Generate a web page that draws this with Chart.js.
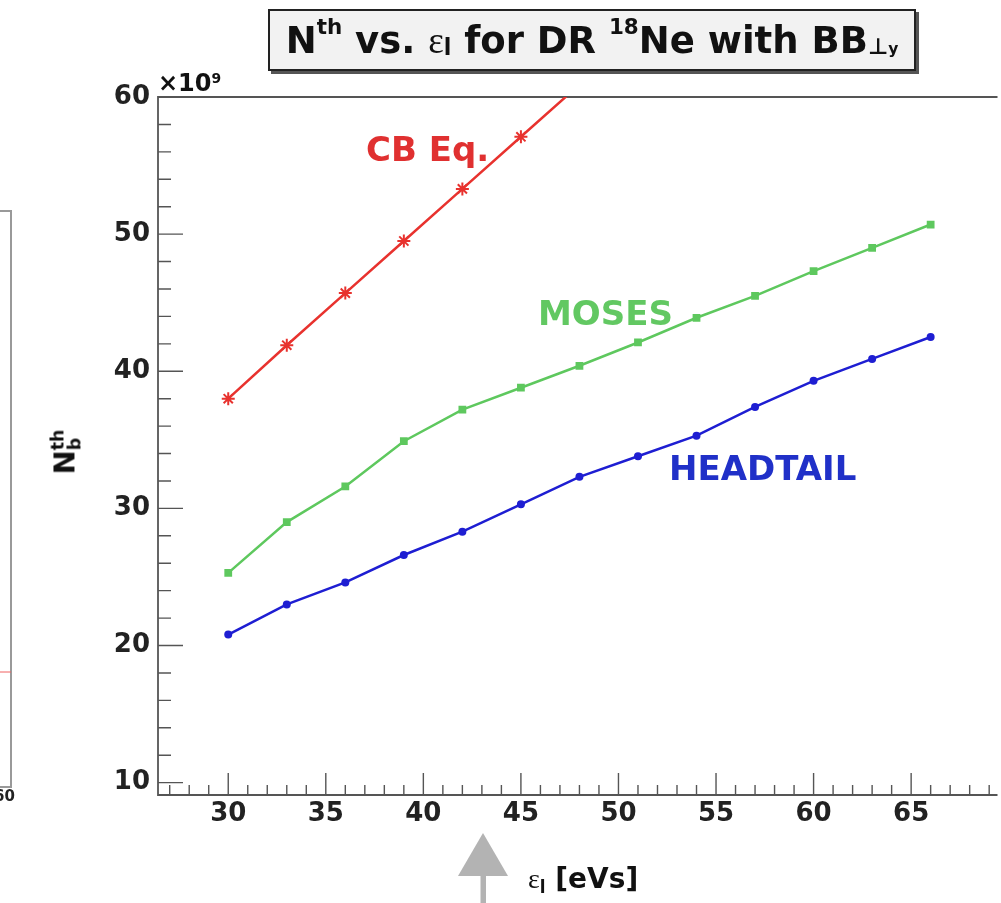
<!DOCTYPE html>
<html lang="en">
<head>
    <meta charset="UTF-8">
    <title>Nth vs. emittance for DR 18Ne</title>
    <script src="https://cdn.jsdelivr.net/npm/chart.js"></script>
    <style>
        body { margin: 0; background: white; overflow: hidden; }
        #wrap { position: relative; width: 1001px; height: 903px; }
        canvas { position: absolute; left: 0; top: 0; }
        .txt { position: absolute; font-family: "DejaVu Sans", sans-serif; font-weight: bold; white-space: nowrap; line-height: 1; }
        .up { position: relative; top: -0.6em; font-size: 0.58em; }
        .dn { position: relative; top: 0.3em; font-size: 0.6em; }
        .eps { font-family: "Liberation Serif", serif; font-weight: normal; }
        #title { left: 268px; top: 9px; width: 644px; height: 58px; border: 2px solid #222; background: #f2f2f2;
                 box-shadow: 3px 3px 0 #555; font-size: 37px; color: #111;
                 display: flex; align-items: center; justify-content: center; }
        #ytitle { left: 66px; top: 452px; font-size: 29px; color: #111; transform: translate(-50%, -50%) rotate(-90deg); }
        .stack { display: inline-block; vertical-align: middle; font-size: 0.6em; line-height: 0.95; text-align: left; }
    </style>
</head>
<body>
<div id="wrap">
    <canvas id="chart" width="1001" height="903"></canvas>
    <div class="txt" id="title">N<span class="up">th</span>&nbsp;vs.&nbsp;<span class="eps">ε</span><span class="dn">l</span>&nbsp;for DR&nbsp;<span class="up">18</span>Ne with BB<span class="dn">⊥<span style="font-size:0.7em">y</span></span></div>
    <div class="txt" id="ytitle">N<span class="stack">th<br>b</span></div>
    <div class="txt" style="left:158px; top:71px; font-size:24px; color:#111;">×10<span class="up">9</span></div>
    <div class="txt" style="left:528px; top:865px; font-size:28px; color:#111;"><span class="eps">ε</span><span class="dn">l</span> [eVs]</div>
    <div class="txt" style="left:366px; top:132px; font-size:34px; color:#e03030;">CB Eq.</div>
    <div class="txt" style="left:538px; top:296px; font-size:34px; color:#62c862;">MOSES</div>
    <div class="txt" style="left:669px; top:451px; font-size:34px; color:#2030c8;">HEADTAIL</div>
</div>
<script>
    const emittance = [30, 33, 36, 39, 42, 45, 48, 51, 54, 57, 60, 63, 66];
    const cbEq = [38.0, 41.9, 45.7, 49.5, 53.3, 57.1, 60.9];
    const moses = [25.3, 29.0, 31.6, 34.9, 37.2, 38.8, 40.4, 42.1, 43.9, 45.5, 47.3, 49.0, 50.7];
    const headtail = [20.8, 23.0, 24.6, 26.6, 28.3, 30.3, 32.3, 33.8, 35.3, 37.4, 39.3, 40.9, 42.5];
    const xTicks = [30, 35, 40, 45, 50, 55, 60, 65];
    const yTicks = [10, 20, 30, 40, 50, 60];

    function pts(vals) {
        return vals.map((v, i) => ({ x: emittance[i], y: v }));
    }

    // ROOT style frame with inward ticks
    const framePlugin = {
        id: "frame",
        beforeDatasetsDraw(chart) {
            const { ctx, chartArea: a, scales: { x, y } } = chart;
            ctx.save();
            ctx.strokeStyle = "#555";
            ctx.lineWidth = 1.8;
            ctx.beginPath();
            ctx.moveTo(a.right + 5, a.top);
            ctx.lineTo(a.left, a.top);
            ctx.lineTo(a.left, a.bottom);
            ctx.lineTo(a.right + 5, a.bottom);
            ctx.stroke();
            ctx.lineWidth = 1.4;
            ctx.beginPath();
            for (let v = 10; v <= 60; v += 2) {
                const py = y.getPixelForValue(v);
                ctx.moveTo(a.left, py);
                ctx.lineTo(a.left + (v % 10 === 0 ? 25 : 13), py);
            }
            for (let v = 27; v <= 69; v++) {
                const px = x.getPixelForValue(v);
                ctx.moveTo(px, a.bottom);
                ctx.lineTo(px, a.bottom - (v % 5 === 0 ? 22 : 10));
            }
            ctx.stroke();

            // edge of the neighbouring panel
            ctx.strokeStyle = "#999";
            ctx.lineWidth = 2;
            ctx.beginPath();
            ctx.moveTo(0, 211); ctx.lineTo(11, 211); ctx.lineTo(11, 787); ctx.lineTo(0, 787);
            ctx.stroke();
            ctx.strokeStyle = "#f06060";
            ctx.lineWidth = 1;
            ctx.beginPath();
            ctx.moveTo(0, 672); ctx.lineTo(11, 672);
            ctx.stroke();
            ctx.fillStyle = "#222";
            ctx.font = "bold 15px 'DejaVu Sans'";
            ctx.fillText("60", -6, 801);

            // arrow under the x axis
            ctx.fillStyle = "#b3b3b3";
            ctx.beginPath();
            ctx.moveTo(483, 833); ctx.lineTo(508, 876); ctx.lineTo(458, 876); ctx.closePath();
            ctx.fill();
            ctx.fillRect(480.5, 876, 5.5, 30);
            ctx.restore();
        }
    };

    const tickFont = { family: "DejaVu Sans", weight: "bold", size: 26 };

    new Chart(document.getElementById("chart").getContext("2d"), {
        type: "line",
        data: {
            datasets: [
                { label: "CB Eq.", data: pts(cbEq), borderColor: "#e8322e", backgroundColor: "#e8322e",
                  borderWidth: 2.5, pointStyle: "star", pointRadius: 6.5, pointBorderWidth: 2 },
                { label: "MOSES", data: pts(moses), borderColor: "#5ec85e", backgroundColor: "#5ec85e",
                  borderWidth: 2.5, pointStyle: "rect", pointRadius: 5.5, pointBorderWidth: 0 },
                { label: "HEADTAIL", data: pts(headtail), borderColor: "#1e1ed2", backgroundColor: "#1e1ed2",
                  borderWidth: 2.5, pointStyle: "circle", pointRadius: 4, pointBorderWidth: 0 }
            ]
        },
        options: {
            responsive: false,
            animation: false,
            devicePixelRatio: 1,
            layout: { padding: { top: 97, left: 0, right: 0, bottom: 0 } },
            plugins: { legend: { display: false }, tooltip: { enabled: false } },
            elements: { line: { tension: 0 } },
            scales: {
                x: {
                    type: "linear", min: 26.4, max: 69.17,
                    grid: { display: false, drawTicks: false },
                    border: { display: false },
                    ticks: { font: tickFont, color: "#222", padding: 4, maxRotation: 0, autoSkip: false },
                    afterBuildTicks: s => { s.ticks = xTicks.map(v => ({ value: v })); },
                    afterFit: s => { s.height = 108; s.paddingLeft = 0; s.paddingRight = 0; }
                },
                y: {
                    min: 9.1, max: 60,
                    grid: { display: false, drawTicks: false },
                    border: { display: false },
                    ticks: { font: tickFont, color: "#222", padding: 8 },
                    afterBuildTicks: s => { s.ticks = yTicks.map(v => ({ value: v })); },
                    afterFit: s => { s.width = 158; s.paddingTop = 0; s.paddingBottom = 0; }
                }
            }
        },
        plugins: [framePlugin]
    });
</script>
</body>
</html>
